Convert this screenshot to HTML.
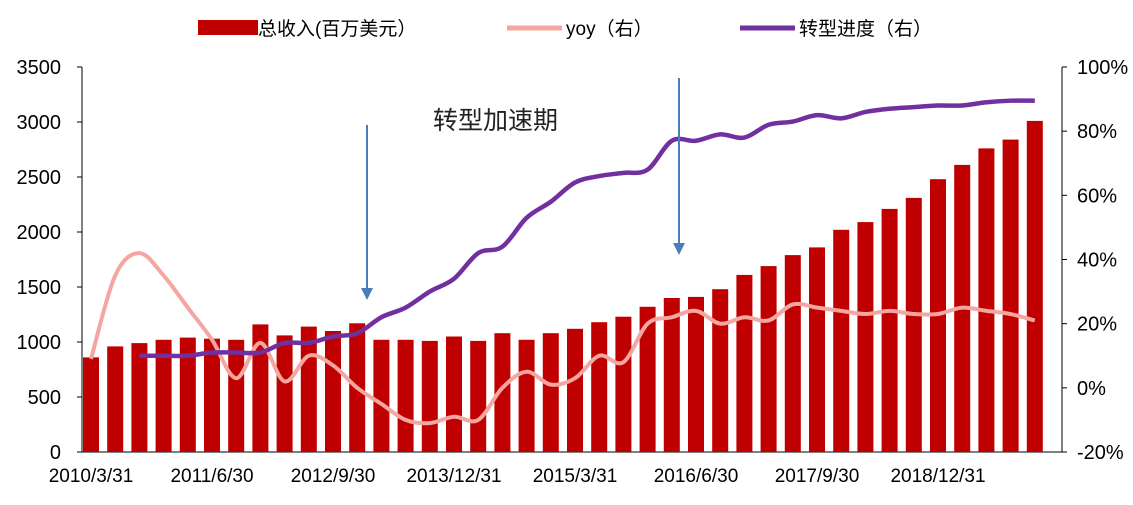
<!DOCTYPE html>
<html><head><meta charset="utf-8"><style>
body{margin:0;background:#fff}
svg{font-family:"Liberation Sans","Noto Sans CJK SC",sans-serif}
</style></head><body>
<svg id="c" width="1133" height="500"></svg>
<script>
const labelIdx=[0,5,10,15,20,25,30,35];
const labelText=["2010/3/31","2011/6/30","2012/9/30","2013/12/31","2015/3/31","2016/6/30","2017/9/30","2018/12/31"];
const revenue=[860,960,990,1020,1040,1030,1020,1160,1060,1140,1100,1170,1020,1020,1010,1050,1010,1080,1020,1080,1120,1180,1230,1320,1400,1410,1480,1610,1690,1790,1860,2020,2090,2210,2310,2480,2610,2760,2840,3010];
const yoy=[9,35,42,35,25,15,3,14,2,10,7,0,-5,-10,-11,-9,-10,0,5,1,3,10,8,20,22,24,20,22,21,26,25,24,23,24,23,23,25,24,23,21];
const progress=[null,null,10,10,10,11,11,11,14,14,16,17,22,25,30,34,42,44,53,58,64,66,67,68,77,77,79,78,82,83,85,84,86,87,87.5,88,88,89,89.5,89.5];
const leftTicks=[0,500,1000,1500,2000,2500,3000,3500];
const rightTicks=[-20,0,20,40,60,80,100];
const NS="http://www.w3.org/2000/svg",svg=document.getElementById('c');
const y0=452,y1=67,x0=91,step=24.2;
const xs=i=>x0+i*step;
const yL=v=>y0-(v/3500)*(y0-y1);
const yR=v=>y0-((v+20)/120)*(y0-y1);
function mk(t,a,p){const e=document.createElementNS(NS,t);for(const k in a)e.setAttribute(k,a[k]);(p||svg).appendChild(e);return e;}
let e=mk('line',{x1:82,y1:y1,x2:82,y2:y0,stroke:'#000','stroke-width':1});

e=mk('line',{x1:82,y1:y0,x2:1062,y2:y0,stroke:'#000','stroke-width':1});

e=mk('line',{x1:1062,y1:y1,x2:1062,y2:y0,stroke:'#000','stroke-width':1});

leftTicks.forEach(v=>{mk('line',{x1:77,x2:82,y1:yL(v),y2:yL(v),stroke:'#000'});
 const t=mk('text',{x:61,y:yL(v)+7,'text-anchor':'end','font-size':20});t.textContent=v;
 });
rightTicks.forEach(v=>{mk('line',{x1:1062,x2:1067,y1:yR(v),y2:yR(v),stroke:'#000'});
 const t=mk('text',{x:1077,y:yR(v)+7,'font-size':20});t.textContent=v+'%';
 });
labelIdx.forEach((i,k)=>{const t=mk('text',{x:xs(i),y:482,'text-anchor':'middle','font-size':19});t.textContent=labelText[k];
 });
revenue.forEach((v,i)=>{const b=mk('rect',{x:xs(i)-8,y:yL(v),width:16,height:y0-yL(v),fill:'#c00000'});
 });
function smooth(pts){let d=`M${pts[0][0]},${pts[0][1]}`;for(let i=0;i<pts.length-1;i++){const p0=pts[i-1]||pts[i],p1=pts[i],p2=pts[i+1],p3=pts[i+2]||p2;
 d+=` C${p1[0]+(p2[0]-p0[0])/6},${p1[1]+(p2[1]-p0[1])/6} ${p2[0]-(p3[0]-p1[0])/6},${p2[1]-(p3[1]-p1[1])/6} ${p2[0]},${p2[1]}`;}return d;}
let p=mk('path',{d:smooth(yoy.map((v,i)=>[xs(i),yR(v)])),fill:'none',stroke:'#f4a6a0','stroke-width':4});

const pp=[];progress.forEach((v,i)=>{if(v!==null)pp.push([xs(i),yR(v)]);});
p=mk('path',{d:smooth(pp),fill:'none',stroke:'#7030a0','stroke-width':4.5});

[[367,125,300],[679,78,255]].forEach(a=>{const g=mk('g',{});
 mk('line',{x1:a[0],x2:a[0],y1:a[1],y2:a[2]-8,stroke:'#4a7ebb','stroke-width':2},g);
 mk('polygon',{points:`${a[0]-6},${a[2]-12} ${a[0]+6},${a[2]-12} ${a[0]},${a[2]}`,fill:'#4a7ebb'},g);});
let t=mk('text',{x:433,y:129,'font-size':25,fill:'#222'});t.textContent='转型加速期';

let g=mk('g',{});
mk('rect',{x:198,y:20,width:60,height:15,fill:'#c00000'},g);
t=mk('text',{x:258,y:35,'font-size':19},g);t.textContent='总收入(百万美元）';
g=mk('g',{});
mk('line',{x1:507,x2:562,y1:28,y2:28,stroke:'#f4a6a0','stroke-width':5},g);
t=mk('text',{x:566,y:35,'font-size':19},g);t.textContent='yoy（右）';
g=mk('g',{});
mk('line',{x1:740,x2:795,y1:28,y2:28,stroke:'#7030a0','stroke-width':5},g);
t=mk('text',{x:799,y:35,'font-size':19},g);t.textContent='转型进度（右）';
</script>
</body></html>
